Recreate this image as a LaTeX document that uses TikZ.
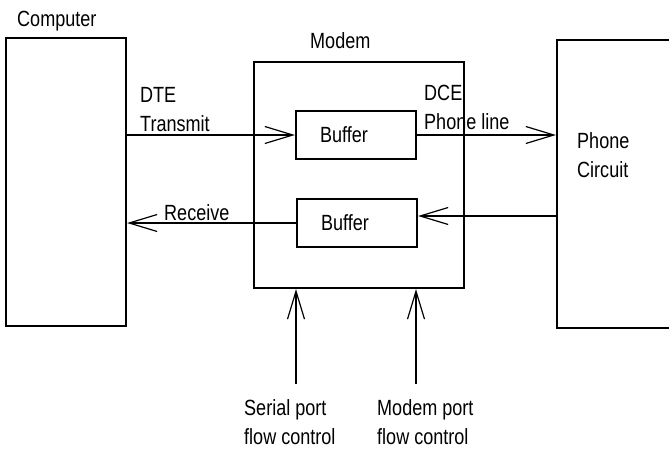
\documentclass[tikz,border=0pt]{standalone}
\usepackage{fontspec}
\setmainfont[FakeStretch=0.82]{Liberation Sans}
\usetikzlibrary{positioning,arrows.meta}

\begin{document}
\begin{tikzpicture}[
  x=1pt,y=-1pt,
  font=\fontsize{22}{29}\selectfont,
  box/.style={draw,line width=2.2pt,inner sep=0pt},
  buffer/.style={box,minimum width=120pt,minimum height=48pt,text width=72pt,align=left},
  lbl/.style={inner sep=0pt,align=left},
  link/.style={line width=2.2pt,-{Straight Barb[length=28pt,width=17pt,line width=1.2pt]}}]
\clip (0,0) rectangle (669,450);
\node[box,minimum width=120pt,minimum height=288pt] (computer) at (66,182) {};
\node[box,minimum width=210pt,minimum height=226pt] (modem) at (359,175) {};
\node[box,minimum width=123pt,minimum height=288pt] (phone) at (618.5,184) {};
\node[buffer] (buftx) at (356,135) {Buffer};
\node[buffer] (bufrx) at (357,223) {Buffer};
% labels
\node[lbl,anchor=base west] (lcomp) at (17,26) {Computer};
\node[lbl,anchor=base west] (lmodem) at (310,48) {Modem};
\node[lbl,anchor=north west] (ldte) at (140,87.2) {DTE\\Transmit};
\node[lbl,anchor=north west] (ldce) at (424,84.7) {DCE\\Phone line};
\node[lbl,anchor=north west] (lphone) at (577,132.2) {Phone\\Circuit};
\node[lbl,anchor=base west] (lrx) at (164,220) {Receive};
\node[lbl,anchor=north west] (lserial) at (244,399.2) {Serial port\\flow control};
\node[lbl,anchor=north west] (lmport) at (377,399.2) {Modem port\\flow control};
\coordinate (serialin) at (296,384);
\coordinate (mportin) at (416,384);
% connectors
\draw[link] (buftx.west -| computer.east) -- (buftx.west);
\draw[link] (buftx.east) -- (buftx.east -| phone.west);
\draw[link] (bufrx.west) -- (bufrx.west -| computer.east);
\draw[link] ([yshift=7pt]bufrx.east -| phone.west) -- ([yshift=7pt]bufrx.east);
\draw[link] (serialin) -- (serialin |- modem.south);
\draw[link] (mportin) -- (mportin |- modem.south);
\end{tikzpicture}
\end{document}
